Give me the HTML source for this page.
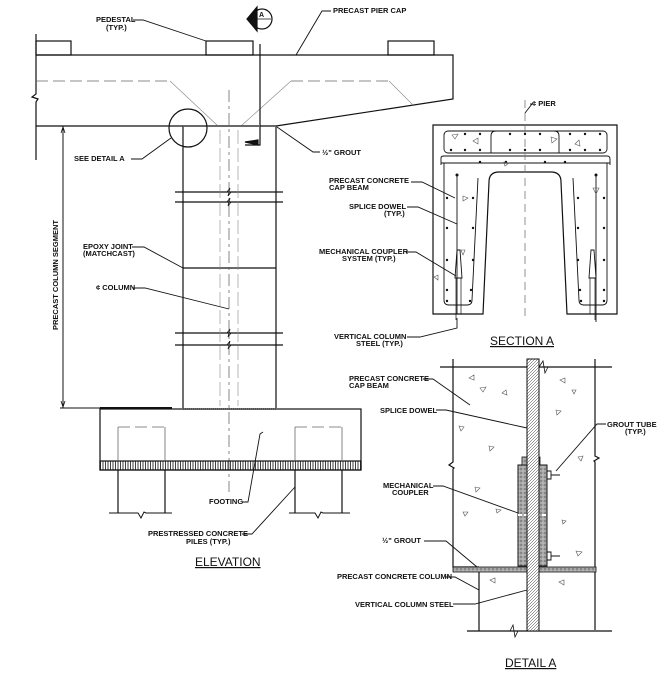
<!DOCTYPE html>
<html><head><meta charset="utf-8"><style>
html,body{margin:0;padding:0;background:#fff;}
svg{display:block}
text{font-family:"Liberation Sans",sans-serif;font-weight:bold;font-size:7.5px;fill:#111;stroke:none}
.t{font-size:12px;font-weight:normal;text-decoration:underline}
</style></head><body>
<svg width="672" height="681" viewBox="0 0 672 681" xmlns="http://www.w3.org/2000/svg" stroke="#111" fill="none" stroke-width="1.2">
<defs><pattern id="hatch" width="2.5" height="9" patternUnits="userSpaceOnUse"><path d="M0.5 0 V9" stroke="#111" stroke-width="0.8"/></pattern>
<pattern id="h2" width="3" height="3" patternUnits="userSpaceOnUse"><path d="M0 3 L3 0" stroke="#333" stroke-width="0.5"/></pattern>
<pattern id="dots" width="4" height="4" patternUnits="userSpaceOnUse"><rect width="4" height="4" fill="#a8a8a8" stroke="none"/><circle cx="1" cy="1" r="0.6" fill="#333" stroke="none"/><circle cx="3" cy="3" r="0.5" fill="#eee" stroke="none"/></pattern></defs>
<!-- ELEVATION: cap -->
<path d="M36 34 V94 l-4 3 l6 2 l-2 3 V160"/>
<path d="M36 55 H453 V99 L276 126 H36"/>
<rect x="36" y="41" width="35" height="14"/>
<rect x="206" y="41" width="47" height="14"/>
<rect x="388" y="41" width="46" height="14"/>
<g stroke="#666" stroke-width="0.8" stroke-dasharray="12 5">
<path d="M36 81 H170"/><path d="M291 81 H389"/>
</g>
<g stroke="#888" stroke-width="0.6">
<path d="M170 81 L218 126"/><path d="M291 81 L241 126"/><path d="M389 81 L413 105"/>
</g>
<!-- section marker -->
<circle cx="262" cy="19" r="10" stroke-width="1.2"/>
<path d="M253 19 H271" stroke-width="0.8"/>
<path d="M247 19 L257 7 V31 Z" fill="#111"/>
<text x="259" y="17" style="font-size:7px">A</text>
<path d="M260 44 V145 H245"/>
<path d="M245 142 L258 140 V145 Z" fill="#111"/>
<!-- column -->
<path d="M183 126 V408 M276 126 V408"/>
<path d="M175 192 H283 M175 202 H283 M175 333 H283 M175 345 H283"/>
<path d="M227 192 l3 -4 l-2 8 l3 -4 M227 202 l3 -4 l-2 8 l3 -4 M227 333 l3 -4 l-2 8 l3 -4 M227 345 l3 -4 l-2 8 l3 -4" stroke-width="0.8"/>
<path d="M183 268 H276"/>
<path d="M220 130 V406 M238 130 V406" stroke="#888" stroke-width="0.6" stroke-dasharray="14 4"/>
<path d="M229 90 V492" stroke="#555" stroke-width="0.7" stroke-dasharray="12 4 3 4"/>
<path d="M183 126 H276" stroke="#666" stroke-width="2" stroke-dasharray="1 1"/>
<path d="M183 409 H276" stroke="#666" stroke-width="1.6" stroke-dasharray="1 1"/>
<circle cx="188" cy="128" r="19"/>
<!-- dimension -->
<path d="M63 126 V408 M60 408 H170" stroke-width="1"/>
<path d="M100 408 H172" stroke-width="2"/>
<path d="M61 133 L63 127 L65 133 M61 401 L63 407 L65 401" stroke-width="0.8"/>
<text transform="translate(58 330) rotate(-90)">PRECAST COLUMN SEGMENT</text>
<!-- footing -->
<rect x="100" y="409" width="261" height="61"/>
<rect x="100" y="461" width="261" height="9" fill="url(#hatch)" />
<g stroke="#666" stroke-width="0.8" stroke-dasharray="12 5"><path d="M118 427 H165 M295 427 H342"/></g>
<path d="M118 427 V461 M165 427 V461 M295 427 V461 M342 427 V461" stroke="#666" stroke-width="0.8"/>
<path d="M118 470 V513 M165 470 V513 M295 470 V513 M342 470 V513"/>
<path d="M109 513 H138 l3 5 l3 -6 l2 1 H172 M289 513 H315 l3 5 l3 -6 l2 1 H350" stroke-width="1"/>
<!-- elevation leaders -->
<text x="96" y="22">PEDESTAL</text><text x="106" y="30">(TYP.)</text>
<path d="M133 20 H143 L206 41" stroke-width="0.9"/>
<text x="333" y="13">PRECAST PIER CAP</text>
<path d="M331 11 H322 L296 55" stroke-width="0.9"/>
<text x="74" y="161">SEE DETAIL A</text>
<path d="M131 159 H142 L171 138" stroke-width="0.9"/>
<text x="322" y="155">½" GROUT</text>
<path d="M320 152 H313 L277 127" stroke-width="0.9"/>
<text x="83" y="249">EPOXY JOINT</text><text x="83" y="256">(MATCHCAST)</text>
<path d="M132 247 H144 L183 268" stroke-width="0.9"/>
<text x="96" y="290">¢ COLUMN</text>
<path d="M133 288 H145 L229 309" stroke-width="0.9"/>
<text x="209" y="504">FOOTING</text>
<path d="M242 502 H248 L260 434 l3 -2" stroke-width="0.9"/>
<text x="148" y="536">PRESTRESSED CONCRETE</text><text x="186" y="544">PILES (TYP.)</text>
<path d="M242 534 H252 L295 487" stroke-width="0.9"/>
<text class="t" x="195" y="566">ELEVATION</text>
<!-- SECTION A -->
<path d="M433 125 H617 V314 H567 L561 182 Q561 172 551 172 H499 Q489 172 489 182 L483 314 H433 Z" fill="#fff"/>
<rect x="444" y="131" width="163" height="22" rx="4" stroke-width="0.9"/>
<path d="M491 153 V136 Q491 131 496 131 M559 153 V136 Q559 131 554 131" stroke-width="0.9"/>
<path d="M441 165 V158 Q441 156 444 156 H607 Q610 156 610 159 V165 M441 163 H610" stroke-width="0.9"/>
<path d="M444 163 V300 Q444 305 449 305 H467 Q472 305 472 300 L478 178 M607 163 V300 Q607 305 602 305 H584 Q579 305 579 300 L573 178" stroke-width="0.9"/>
<path d="M457 175 V314 M596 175 V322" stroke-width="0.9"/>
<path d="M455 278 L457 250 L460 250 L462 278 Z M589 278 L591 250 L594 250 L596 278 Z" stroke-width="0.9"/>
<path d="M456 278 V320 M461 278 V314 M590 278 V314 M595 278 V320" stroke-width="0.7"/>
<path d="M525 100 V320" stroke="#777" stroke-width="0.8" stroke-dasharray="8 5"/>
<g fill="#111" stroke="none">
<circle cx="465" cy="134" r="1.2"/><circle cx="480" cy="134" r="1.2"/><circle cx="510" cy="134" r="1.2"/><circle cx="525" cy="134" r="1.2"/><circle cx="540" cy="134" r="1.2"/><circle cx="570" cy="134" r="1.2"/><circle cx="585" cy="134" r="1.2"/><circle cx="600" cy="134" r="1.2"/>
<circle cx="451" cy="150" r="1.2"/><circle cx="465" cy="150" r="1.2"/><circle cx="480" cy="150" r="1.2"/><circle cx="510" cy="150" r="1.2"/><circle cx="525" cy="150" r="1.2"/><circle cx="540" cy="150" r="1.2"/><circle cx="570" cy="150" r="1.2"/><circle cx="585" cy="150" r="1.2"/><circle cx="600" cy="150" r="1.2"/>
<circle cx="506" cy="162" r="1.2"/><circle cx="545" cy="162" r="1.2"/><circle cx="480" cy="162" r="1.2"/><circle cx="565" cy="162" r="1.2"/>
<circle cx="457" cy="175" r="1.5"/><circle cx="596" cy="175" r="1.5"/>
<circle cx="447" cy="198" r="1.2"/><circle cx="473" cy="198" r="1.2"/><circle cx="447" cy="228" r="1.2"/><circle cx="473" cy="228" r="1.2"/><circle cx="447" cy="260" r="1.2"/><circle cx="473" cy="260" r="1.2"/><circle cx="447" cy="290" r="1.2"/><circle cx="471" cy="290" r="1.2"/><circle cx="447" cy="301" r="1.2"/><circle cx="470" cy="301" r="1.2"/>
<circle cx="604" cy="198" r="1.2"/><circle cx="578" cy="198" r="1.2"/><circle cx="604" cy="228" r="1.2"/><circle cx="578" cy="228" r="1.2"/><circle cx="604" cy="260" r="1.2"/><circle cx="578" cy="260" r="1.2"/><circle cx="604" cy="290" r="1.2"/><circle cx="580" cy="290" r="1.2"/><circle cx="604" cy="301" r="1.2"/><circle cx="581" cy="301" r="1.2"/>
</g>
<g stroke="#555" stroke-width="0.6">
<path d="M452 135 l6 -1 l-3 5 z M473 141 l5 -3 l0 6 z M551 137 l6 2 l-5 4 z M575 144 l4 -4 l1 6 z M463 196 l5 2 l-5 3 z M593 188 l6 0 l-3 6 z M461 250 l4 0 l-2 5 z M434 277 l4 -2 l0 5 z M504 162 l5 1 l-4 3 z"/>
</g>
<text x="532" y="106">¢ PIER</text>
<path d="M525 113 L532 104 H530" stroke-width="0.9"/>
<text x="329" y="183">PRECAST CONCRETE</text><text x="329" y="190">CAP BEAM</text>
<path d="M411 182 H422 L455 198" stroke-width="0.9"/>
<text x="349" y="209">SPLICE DOWEL</text><text x="384" y="216">(TYP.)</text>
<path d="M407 207 H418 L457 224" stroke-width="0.9"/>
<text x="319" y="254">MECHANICAL COUPLER</text><text x="342" y="261">SYSTEM (TYP.)</text>
<path d="M406 252 H416 L456 276" stroke-width="0.9"/>
<text x="334" y="339">VERTICAL COLUMN</text><text x="356" y="346">STEEL (TYP.)</text>
<path d="M407 337 H420 L457 328 V318" stroke-width="0.9"/>
<text class="t" x="490" y="345">SECTION A</text>
<!-- DETAIL A -->
<path d="M453 359 V462 l-4 3 l5 3 l-1 1 V567 H479 M595 359 V456 l4 2 l-5 3 l1 1 V630" />
<path d="M440 367 H612"/>
<path d="M539 367 l4 -6 l2 12 l3 -6" stroke-width="0.8"/>
<rect x="518" y="465" width="29" height="101" fill="url(#dots)" stroke-width="1"/>
<rect x="522" y="457" width="18" height="8" fill="url(#dots)" stroke-width="0.8"/>
<path d="M518 515 H547" stroke="#fff" stroke-width="2" stroke-dasharray="4 2"/>
<rect x="453" y="567" width="143" height="5" fill="url(#dots)" stroke-width="0.8"/>
<path d="M479 572 V631 M467 631 H612"/>
<path d="M510 631 l3 -6 l2 12 l3 -6" stroke-width="0.8"/>
<rect x="527" y="359" width="12" height="272" fill="#fff" stroke-width="1"/>
<rect x="527" y="359" width="12" height="272" fill="url(#h2)" stroke-width="1"/>
<path d="M547 471 h4 v8 h-4 M551 475 H560 M547 552 h4 v8 h-4 M551 556 H560" stroke-width="0.9"/>
<g stroke="#555" stroke-width="0.6">
<path d="M469 378 l5 -3 l0 5 z M480 388 l6 -1 l-3 5 z M502 393 l4 -3 l1 5 z M459 426 l5 1 l-3 4 z M489 446 l5 1 l-4 4 z M475 487 l5 1 l-4 4 z M496 509 l5 1 l-4 3 z M463 512 l5 0 l-3 4 z M490 580 l5 -2 l0 5 z M560 380 l5 -2 l0 5 z M556 410 l5 1 l-4 4 z M578 457 l5 -1 l-2 5 z M576 551 l6 1 l-4 4 z M559 582 l5 -2 l0 5 z M562 520 l4 1 l-3 3 z M572 390 l4 0 l-2 4 z"/>
</g>
<text x="349" y="381">PRECAST CONCRETE</text><text x="349" y="388">CAP BEAM</text>
<path d="M423 379 H433 L470 405" stroke-width="0.9"/>
<text x="380" y="413">SPLICE DOWEL</text>
<path d="M436 410 H446 L527 428" stroke-width="0.9"/>
<text x="607" y="427">GROUT TUBE</text><text x="625" y="434">(TYP.)</text>
<path d="M606 424 H597 L556 471" stroke-width="0.9"/>
<text x="383" y="488">MECHANICAL</text><text x="392" y="495">COUPLER</text>
<path d="M433 486 H443 L518 513" stroke-width="0.9"/>
<text x="382" y="543">½" GROUT</text>
<path d="M424 541 H446 L477 567" stroke-width="0.9"/>
<text x="337" y="579">PRECAST CONCRETE COLUMN</text>
<path d="M445 577 H455 L479 590" stroke-width="0.9"/>
<text x="355" y="607">VERTICAL COLUMN STEEL</text>
<path d="M453 604 H475 L527 590" stroke-width="0.9"/>
<text class="t" x="505" y="667">DETAIL A</text>
</svg>
</body></html>
